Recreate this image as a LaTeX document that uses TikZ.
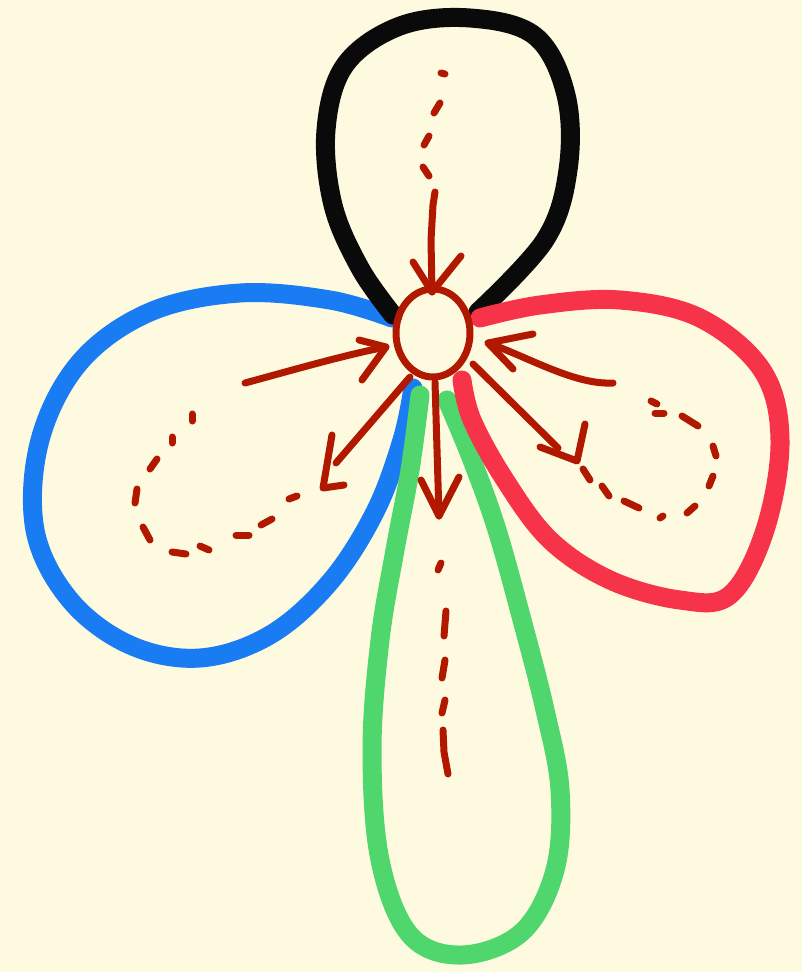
\documentclass[tikz,border=0pt]{standalone}
\usetikzlibrary{shapes.geometric}
\definecolor{bg}{HTML}{FEFADF}
\definecolor{ared}{HTML}{B01800}
\definecolor{cblack}{HTML}{0A0A0A}
\definecolor{cblue}{HTML}{1A7CF2}
\definecolor{cred}{HTML}{F73349}
\definecolor{cgreen}{HTML}{4FD66D}
\tikzset{
  crayon/.style={line width=19pt,line cap=round,line join=round},
  arr/.style={draw=ared,line width=7pt,line cap=round,line join=round},
  dashseg/.style={draw=ared,line width=7pt,line cap=round}
}
\begin{document}
\begin{tikzpicture}[x=1pt,y=-1pt]
\fill[bg] (0,0) rectangle (802,972);
\useasboundingbox (0,0) rectangle (802,972);
% blue lobe
\draw[crayon,cblue] plot[smooth,tension=0.6] coordinates {(392,318) (330,300) (240,293) (150,312) (80,362) (40,440) (35,530) (70,600) (130,645) (200,658) (270,635) (330,582) (375,512) (402,440) (413,388)};
% green lobe
\draw[crayon,cgreen] plot[smooth,tension=0.6] coordinates {(420,395) (410,470) (395,550) (380,640) (372,750) (380,860) (410,935) (462,955) (522,932) (555,870) (560,790) (545,710) (522,620) (497,530) (472,460) (447,400)};
% black lobe
\draw[crayon,cblack] plot[smooth,tension=0.6] coordinates {(393,315) (360,268) (333,205) (326,130) (345,65) (400,26) (470,18) (535,36) (566,95) (568,170) (545,240) (478,312)};
% red lobe
\draw[crayon,cred] plot[smooth,tension=0.6] coordinates {(480,318) (540,305) (620,300) (700,318) (762,370) (780,440) (765,530) (730,595) (680,600) (610,580) (550,540) (505,480) (472,420) (462,380)};
% centre
\node[draw=ared,line width=7pt,ellipse,minimum width=74pt,minimum height=88pt,inner sep=0pt] (c) at (433,333) {};
% top dashed + arrow
\draw[dashseg] (441,73) -- (445,74);
\draw[dashseg] (440,103) -- (434,113);
\draw[dashseg] (429,136) -- (424,145);
\draw[dashseg] (423,167) -- (429,176);
\coordinate (t0) at (435,192);
\coordinate (t1) at (432,292);
\draw[arr] (t0) -- (433,205) -- (431,240) -- (t1);
\draw[arr] (413,262) -- (t1) -- (461,256);
% left incoming
\coordinate (l0) at (245,383);
\coordinate (l1) at (386,347);
\draw[arr] (l0) .. controls (300,368) and (345,355) .. (l1);
\draw[arr] (359,340) -- (l1) -- (362,380);
% right incoming
\coordinate (r0) at (613,383);
\coordinate (r1) at (488,343);
\draw[arr] (r0) .. controls (575,385) and (530,358) .. (r1);
\draw[arr] (533,334) -- (r1) -- (513,369);
% lower-left outgoing
\coordinate (ll0) at (410,377);
\coordinate (ll1) at (323,488);
\draw[arr] (ll0) -- (336,463);
\draw[arr] (332,435) -- (ll1) -- (344,485);
% down outgoing
\coordinate (d0) at (435,382);
\coordinate (d1) at (439,516);
\draw[arr] (d0) -- (d1);
\draw[arr] (421,480) -- (d1) -- (459,477);
% lower-right outgoing
\coordinate (lr0) at (473,364);
\coordinate (lr1) at (577,461);
\draw[arr] (lr0) -- (558,448);
\draw[arr] (540,447) -- (lr1) -- (585,424);
% left dashed loop
\draw[dashseg] (192,414) -- (192,421);
\draw[dashseg] (172,437) -- (172,443);
\draw[dashseg] (157,459) -- (150,469);
\draw[dashseg] (137,489) -- (135,503);
\draw[dashseg] (143,527) -- (150,540);
\draw[dashseg] (172,552) -- (186,554);
\draw[dashseg] (200,546) -- (209,550);
\draw[dashseg] (236,535) -- (249,535);
\draw[dashseg] (261,525) -- (272,519);
\draw[dashseg] (289,499) -- (297,496);
% right dashed loop
\draw[dashseg] (651,401) -- (657,404);
\draw[dashseg] (655,413) -- (664,413);
\draw[dashseg] (682,416) -- (698,426);
\draw[dashseg] (713,446) -- (716,456);
\draw[dashseg] (713,476) -- (709,486);
\draw[dashseg] (695,506) -- (687,513);
\draw[dashseg] (663,516) -- (660,518);
\draw[dashseg] (624,501) -- (639,508);
\draw[dashseg] (602,486) -- (609,496);
\draw[dashseg] (583,469) -- (590,480);
% green dashed
\draw[dashseg] (441,563) -- (438,570);
\draw[dashseg] (446,611) -- (444,636);
\draw[dashseg] (445,660) -- (442,678);
\draw[dashseg] (445,700) -- (442,713);
\draw[dashseg] (443,730) -- (444,752) -- (448,774);
\end{tikzpicture}
\end{document}
